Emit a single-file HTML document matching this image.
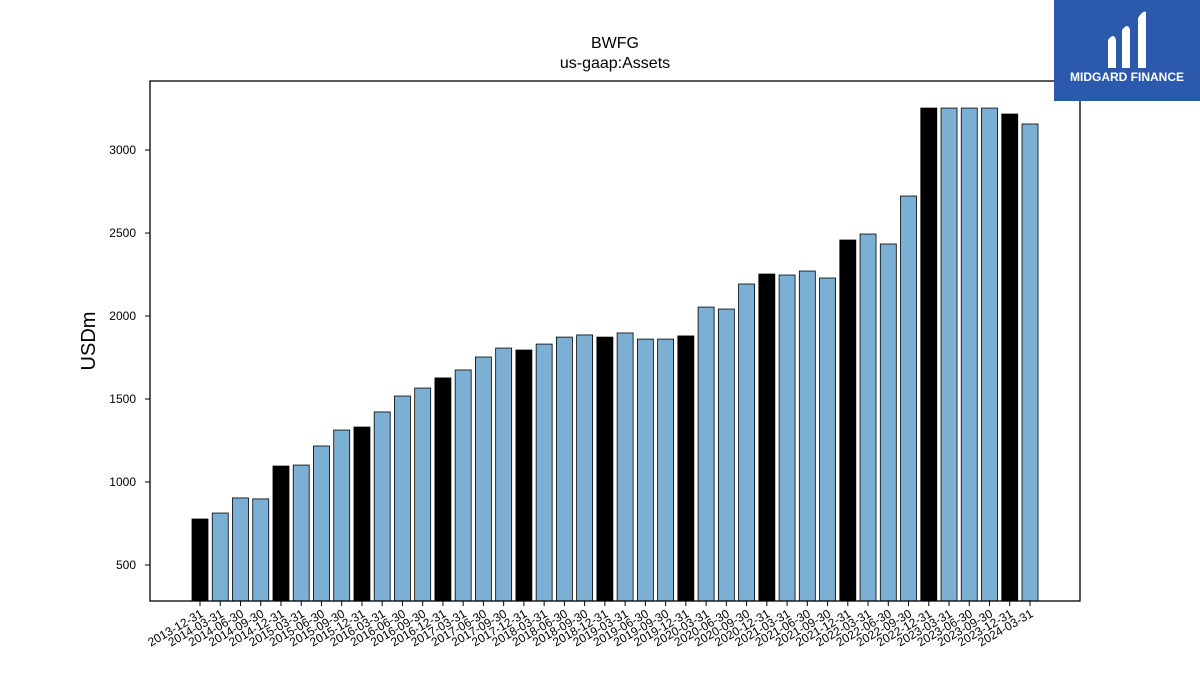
<!DOCTYPE html>
<html><head><meta charset="utf-8"><style>
body{margin:0;background:#fff;font-family:"Liberation Sans","DejaVu Sans",sans-serif}
</style></head><body>
<svg width="1200" height="675" xmlns="http://www.w3.org/2000/svg">
<rect width="1200" height="675" fill="#fff"/>
<text x="615" y="48" text-anchor="middle" font-size="16">BWFG</text>
<text x="615" y="68" text-anchor="middle" font-size="16">us-gaap:Assets</text>
<text transform="translate(95,341) rotate(-90)" text-anchor="middle" font-size="20">USDm</text>
<g id="bars"></g><g id="yt"></g><g id="xt"></g>
<rect x="150" y="81" width="930" height="520" fill="none" stroke="#000" stroke-width="1.3"/>
<g>
<rect x="1054" y="0" width="146" height="101" fill="#2b5aad"/>
<path d="M1108 40 q6-8 8 0 v28 h-8z M1122 30 q6-8 8 0 v38 h-8z M1138 18 q5-8 8-6 v56 h-8z" fill="#fff"/>
<text x="1127" y="81" text-anchor="middle" font-size="12" font-weight="bold" fill="#fff">MIDGARD FINANCE</text>
</g>
</svg>
<script>
const labels=["2013-12-31","2014-03-31","2014-06-30","2014-09-30","2014-12-31","2015-03-31","2015-06-30","2015-09-30","2015-12-31","2016-03-31","2016-06-30","2016-09-30","2016-12-31","2017-03-31","2017-06-30","2017-09-30","2017-12-31","2018-03-31","2018-06-30","2018-09-30","2018-12-31","2019-03-31","2019-06-30","2019-09-30","2019-12-31","2020-03-31","2020-06-30","2020-09-30","2020-12-31","2021-03-31","2021-06-30","2021-09-30","2021-12-31","2022-03-31","2022-06-30","2022-09-30","2022-12-31","2023-03-31","2023-06-30","2023-09-30","2023-12-31","2024-03-31"];
const values=[777,813,904,898,1096,1102,1217,1313,1331,1422,1518,1566,1627,1675,1753,1807,1795,1831,1873,1886,1873,1898,1861,1861,1880,2054,2042,2193,2253,2247,2271,2229,2458,2494,2434,2723,3253,3253,3253,3253,3217,3157];
const yTicks=[500,1000,1500,2000,2500,3000];
const NS="http://www.w3.org/2000/svg";
const yMin=283,yMax=3416;
const y=v=>601-(v-yMin)*(520/(yMax-yMin));
const x=i=>200+i*(830/(labels.length-1));
const bw=16;
const gb=document.getElementById('bars'),gy=document.getElementById('yt'),gx=document.getElementById('xt');
function mk(t,a,p){const e=document.createElementNS(NS,t);for(const k in a)e.setAttribute(k,a[k]);p.appendChild(e);return e;}
values.forEach((v,i)=>{
 const r=mk('rect',{x:x(i)-bw/2,y:y(v),width:bw,height:601-y(v),fill:labels[i].endsWith('12-31')?'#000':'#7bafd4',stroke:'#000','stroke-width':0.8},gb);
 
 
 const tk=mk('line',{x1:x(i),x2:x(i),y1:601,y2:606,stroke:'#000'},gx);
 
 
 const t=mk('text',{x:0,y:0,'font-size':12,'text-anchor':'end',transform:`translate(${x(i)+4},${616}) rotate(-30)`},gx);
 t.textContent=labels[i];
 
 
});
yTicks.forEach(v=>{
 const l=mk('line',{x1:145,x2:150,y1:y(v),y2:y(v),stroke:'#000'},gy);
 
 
 const t=mk('text',{x:136,y:y(v)+4,'font-size':12,'text-anchor':'end'},gy);
 t.textContent=v;
 
 
});
</script>
</body></html>
